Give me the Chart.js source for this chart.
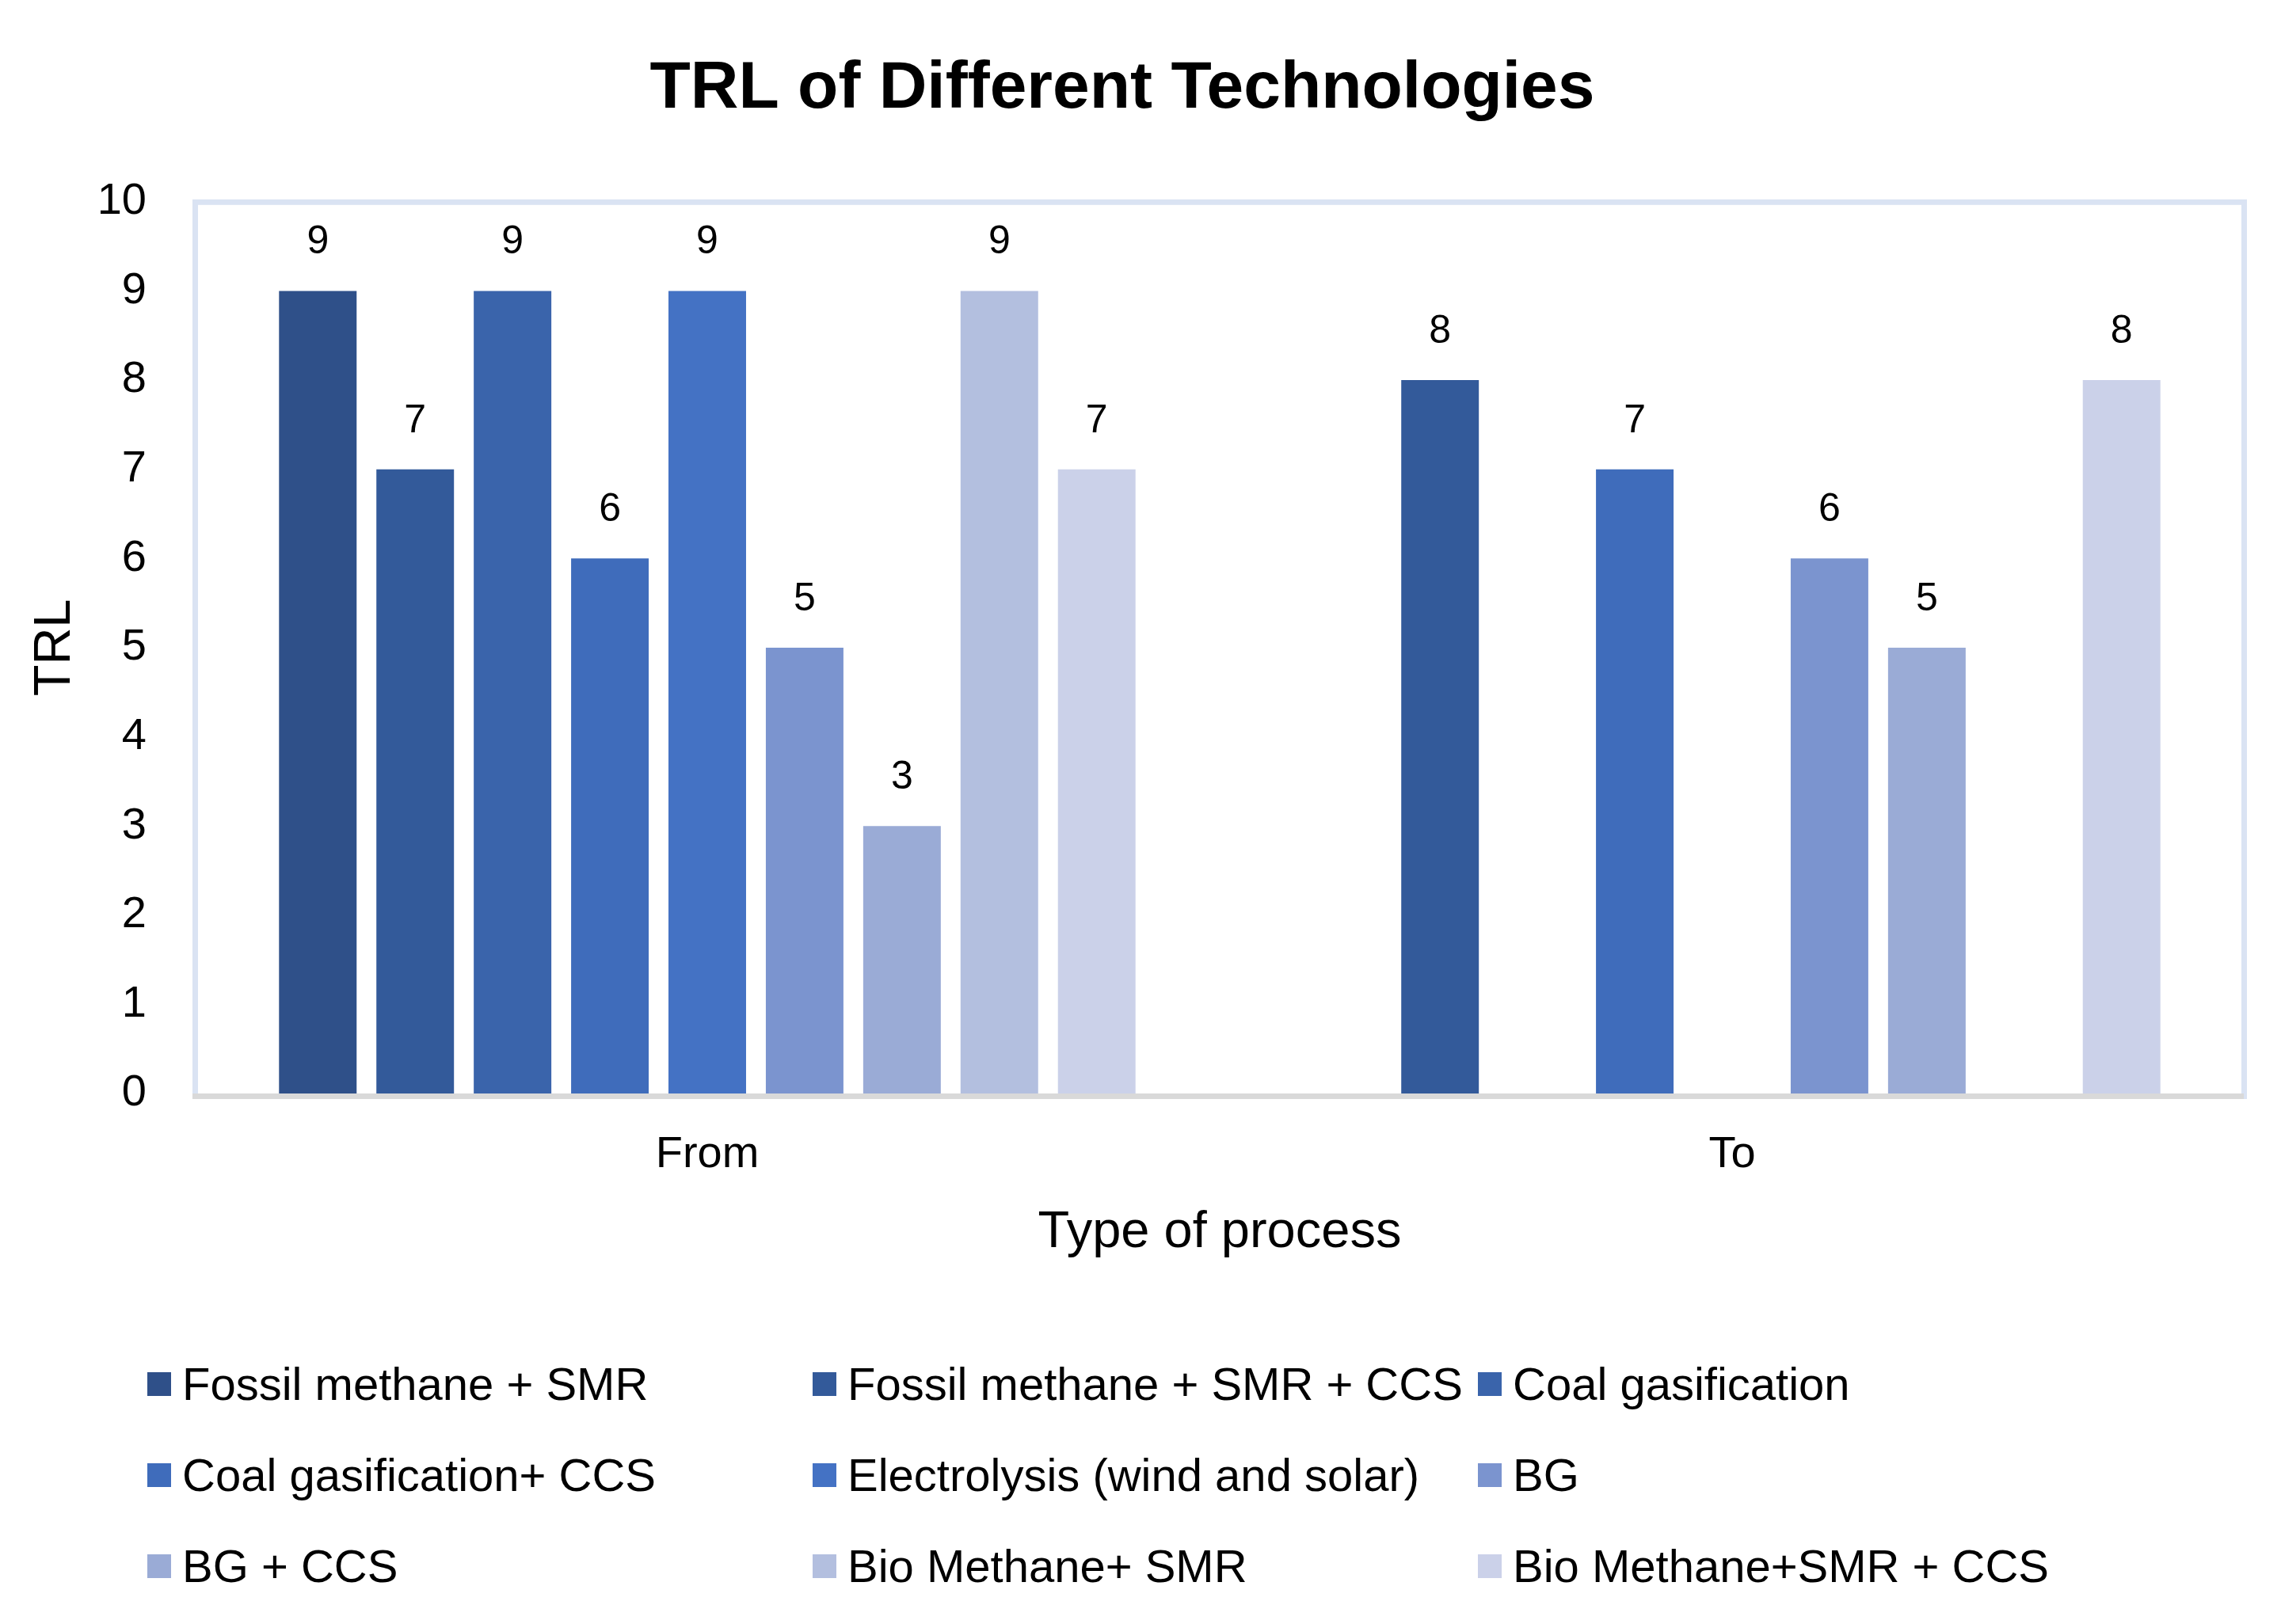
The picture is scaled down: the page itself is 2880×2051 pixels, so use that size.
<!DOCTYPE html>
<html>
<head>
<meta charset="utf-8">
<title>TRL of Different Technologies</title>
<script src="https://cdn.jsdelivr.net/npm/chart.js@4.4.1/dist/chart.umd.min.js"></script>
<style>
  body { margin: 0; background: #fff; }
  #wrap { position: relative; width: 2880px; height: 2051px; }
  #legend {
    position: absolute;
    left: 186px;
    top: 1690px;
    display: grid;
    grid-template-columns: repeat(3, 840px);
    grid-auto-rows: 115px;
    font-family: "Liberation Sans", Arial, sans-serif;
    font-size: 58px;
    color: #000;
  }
  .item { display: flex; align-items: center; white-space: nowrap; }
  .box { width: 30px; height: 30px; margin-right: 14px; flex: none; }
</style>
</head>
<body>
<div id="wrap">
  <canvas id="trlChart" width="2880" height="2051"></canvas>
  <div id="legend"></div>
</div>
<script>
const categories = ["From", "To"];

const seriesNames = [
  "Fossil methane + SMR",
  "Fossil methane + SMR + CCS",
  "Coal gasification",
  "Coal gasification+ CCS",
  "Electrolysis (wind and solar)",
  "BG",
  "BG + CCS",
  "Bio Methane+ SMR",
  "Bio Methane+SMR + CCS",
];

const fromValues = [9, 7, 9, 6, 9, 5, 3, 9, 7];
const toValues = [null, 8, null, 7, null, 6, 5, null, 8];

const seriesColors = [
  "#2f5089",
  "#335a9a",
  "#3a64ab",
  "#3f6cbb",
  "#4472c4",
  "#7b94cf",
  "#9aabd6",
  "#b3bfdf",
  "#cbd1e9",
];

Chart.defaults.font.family = "'Liberation Sans', Arial, sans-serif";
Chart.defaults.color = "#000";

// value labels above each bar
const barLabels = {
  id: "barLabels",
  afterDatasetsDraw(chart) {
    const ctx = chart.ctx;
    ctx.save();
    ctx.font = "50px 'Liberation Sans', Arial, sans-serif";
    ctx.fillStyle = "#000";
    ctx.textAlign = "center";
    ctx.textBaseline = "alphabetic";
    chart.data.datasets.forEach((ds, i) => {
      const meta = chart.getDatasetMeta(i);
      meta.data.forEach((bar, j) => {
        const v = ds.data[j];
        if (v === null || v === undefined) return;
        ctx.fillText(String(v), bar.x, bar.y - 47);
      });
    });
    ctx.restore();
  },
};

// plot area frame: light blue sides, grey base line
const plotFrame = {
  id: "plotFrame",
  beforeDatasetsDraw(chart) {
    const { left, top, right, bottom } = chart.chartArea;
    const ctx = chart.ctx;
    ctx.save();
    ctx.strokeStyle = "#dae3f3";
    ctx.lineWidth = 7;
    ctx.strokeRect(left + 0.5, top + 0.5, right - left - 1, bottom - top + 3);
    ctx.fillStyle = "#d9d9d9";
    ctx.fillRect(left - 3, bottom, right - left + 2, 7);
    ctx.restore();
  },
};

const datasets = seriesNames.map((name, i) => ({
  label: name,
  data: [fromValues[i], toValues[i]],
  backgroundColor: seriesColors[i],
  barPercentage: 0.797,
  categoryPercentage: 0.855,
}));

const chart = new Chart(document.getElementById("trlChart"), {
  type: "bar",
  data: {
    labels: categories,
    datasets: datasets,
  },
  options: {
    responsive: false,
    devicePixelRatio: 1,
    animation: false,
    layout: {
      padding: { top: 0, left: 0, right: 46, bottom: 455 },
    },
    plugins: {
      legend: { display: false },
      tooltip: { enabled: false },
      title: {
        display: true,
        text: "TRL of Different Technologies",
        color: "#000",
        font: { size: 84, weight: "bold" },
        padding: { top: 62, bottom: 92 },
      },
    },
    scales: {
      x: {
        grid: { display: false },
        border: { display: false },
        ticks: { font: { size: 56 }, padding: 36, color: "#000" },
        title: {
          display: true,
          text: "Type of process",
          font: { size: 65 },
          color: "#000",
          padding: { top: 0, bottom: 0 },
        },
        afterFit(scale) {
          scale.height = 215;
        },
      },
      y: {
        min: 0,
        max: 10,
        grid: { display: false },
        border: { display: false },
        ticks: { stepSize: 1, font: { size: 56 }, padding: 53, color: "#000" },
        title: {
          display: true,
          text: "TRL",
          font: { size: 65 },
          color: "#000",
          padding: { top: 31, bottom: 0 },
        },
        afterFit(scale) {
          scale.width = 246;
        },
      },
    },
  },
  plugins: [plotFrame, barLabels],
});

// legend laid out in three columns like the original
const legendDiv = document.getElementById("legend");
chart.data.datasets.forEach((ds) => {
  const item = document.createElement("div");
  item.className = "item";
  const box = document.createElement("span");
  box.className = "box";
  box.style.background = ds.backgroundColor;
  const text = document.createElement("span");
  text.textContent = ds.label;
  item.appendChild(box);
  item.appendChild(text);
  legendDiv.appendChild(item);
});
</script>
</body>
</html>
